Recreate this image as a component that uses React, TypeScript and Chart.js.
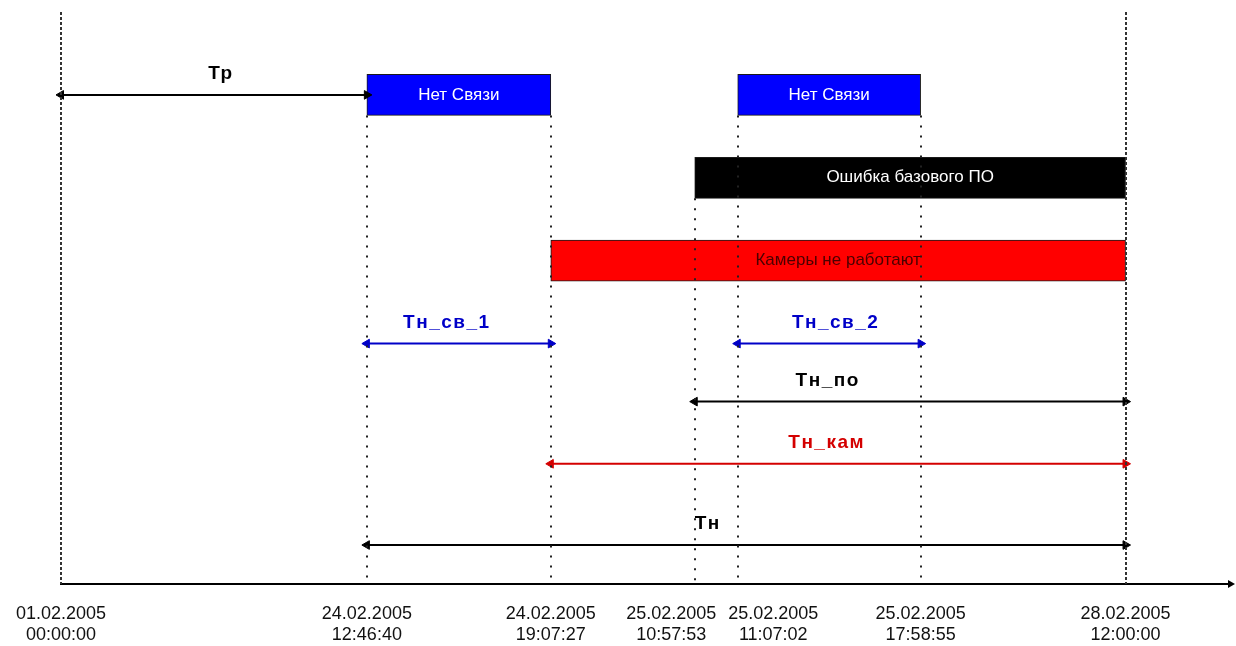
import { useEffect, useRef } from "react";
import { Chart, registerables } from "chart.js";

Chart.register(...registerables);

// ---- data (schematic timeline units, not proportional to time) ----
const eventDates = ["01.02.2005", "24.02.2005", "24.02.2005", "25.02.2005", "25.02.2005", "25.02.2005", "28.02.2005"];
const eventTimes = ["00:00:00", "12:46:40", "19:07:27", "10:57:53", "11:07:02", "17:58:55", "12:00:00"];
const eventPos = [0, 30.6, 49.0, 63.4, 67.7, 86.0, 106.5];

const barNames = ["Нет Связи", "Нет Связи", "Ошибка базового ПО", "Камеры не работают"];
const barStart = [30.6, 67.7, 63.4, 49.0];
const barEnd = [49.0, 86.0, 106.5, 106.5];
const barLane = [0, 0, 1, 2];
const barColors = ["#0000ff", "#0000ff", "#000000", "#ff0000"];
const barTextColors = ["#ffffff", "#ffffff", "#ffffff", "#4a0000"];

const arrowNames = ["Тр", "Тн_св_1", "Тн_св_2", "Тн_по", "Тн_кам", "Тн"];
const arrowStart = [0, 30.6, 67.7, 63.4, 49.0, 30.6];
const arrowEnd = [30.6, 49.0, 86.0, 106.5, 106.5, 106.5];
const arrowLane = [0, 3, 3, 3.7, 4.45, 5.43];
const arrowLabelAt = [16.0, 38.6, 77.5, 76.7, 76.6, 64.7];
const arrowColors = ["#000000", "#0000c8", "#0000c8", "#000000", "#d40000", "#000000"];

const FONT = '"Liberation Sans", Arial, sans-serif';
const BAR_THICK = 41;

export default function App() {
  const ref = useRef<HTMLCanvasElement>(null);

  useEffect(() => {
    const canvas = ref.current!;

    const decorPlugin = {
      id: "decor",
      afterDatasetsDraw(chart: any) {
        const { ctx, chartArea, scales } = chart;
        const x = scales.x;
        const y = scales.y;
        ctx.save();
        // vertical event lines
        eventPos.forEach((p, i) => {
          const px = Math.round(x.getPixelForValue(p));
          let y0 = chartArea.top;
          const outer = i === 0 || i === eventPos.length - 1;
          if (!outer) {
            let lane = Infinity;
            barStart.forEach((s, j) => {
              if (s === p || barEnd[j] === p) lane = Math.min(lane, barLane[j]);
            });
            if (lane !== Infinity) y0 = y.getPixelForValue(lane) + BAR_THICK / 2;
          }
          ctx.beginPath();
          ctx.strokeStyle = outer ? "#333333" : "#222222";
          ctx.lineWidth = 2;
          ctx.setLineDash(outer ? [3, 2] : [2, 8]);
          ctx.moveTo(px, y0);
          ctx.lineTo(px, chartArea.bottom);
          ctx.stroke();
        });
        ctx.setLineDash([]);

        // bar texts
        const meta = chart.getDatasetMeta(0);
        ctx.font = `17px ${FONT}`;
        ctx.textAlign = "center";
        ctx.textBaseline = "middle";
        meta.data.forEach((el: any, i: number) => {
          const c = el.getCenterPoint();
          ctx.fillStyle = barTextColors[i];
          ctx.fillText(barNames[i], c.x, c.y);
        });

        // arrow labels
        ctx.font = `bold 19px ${FONT}`;
        (ctx as any).letterSpacing = "1.5px";
        arrowNames.forEach((n, i) => {
          ctx.fillStyle = arrowColors[i];
          ctx.fillText(n, x.getPixelForValue(arrowLabelAt[i]), y.getPixelForValue(arrowLane[i]) - 21);
        });
        (ctx as any).letterSpacing = "0px";
        ctx.restore();
      },
      afterDraw(chart: any) {
        const { ctx, chartArea, scales } = chart;
        const x = scales.x;
        ctx.save();
        // axis extension + arrowhead
        const ay = chartArea.bottom;
        const ax = chart.width - 1;
        ctx.strokeStyle = "#000";
        ctx.lineWidth = 2;
        ctx.beginPath();
        ctx.moveTo(chartArea.right - 1, ay);
        ctx.lineTo(ax - 4, ay);
        ctx.stroke();
        ctx.fillStyle = "#000";
        ctx.beginPath();
        ctx.moveTo(ax, ay);
        ctx.lineTo(ax - 7, ay - 4);
        ctx.lineTo(ax - 7, ay + 4);
        ctx.closePath();
        ctx.fill();

        // tick labels (two lines), nudged apart where they collide
        ctx.font = `18px ${FONT}`;
        ctx.fillStyle = "#111";
        ctx.textAlign = "center";
        ctx.textBaseline = "middle";
        const centers = eventPos.map((p) => x.getPixelForValue(p));
        const widths = eventDates.map((d, i) =>
          Math.max(ctx.measureText(d).width, ctx.measureText(eventTimes[i]).width)
        );
        for (let i = 1; i < centers.length; i++) {
          const need = (widths[i - 1] + widths[i]) / 2 + 12;
          const d = centers[i] - centers[i - 1];
          if (d < need) {
            const push = (need - d) / 2;
            centers[i - 1] -= push - 6;
            centers[i] += push + 6;
          }
        }
        centers.forEach((cx, i) => {
          ctx.fillText(eventDates[i], cx, ay + 30);
          ctx.fillText(eventTimes[i], cx, ay + 51);
        });
        ctx.restore();
      },
    };

    const datasets: any[] = [
      {
        type: "bar",
        indexAxis: "y",
        data: barNames.map((_, i) => ({ x: [barStart[i], barEnd[i]], y: barLane[i] })),
        backgroundColor: barColors,
        borderColor: "#1a1a1a",
        borderWidth: 1,
        borderSkipped: false,
        barThickness: BAR_THICK,
        grouped: false,
        order: 2,
      },
      ...arrowNames.map((_, i) => ({
        type: "line",
        data: [
          { x: arrowStart[i], y: arrowLane[i] },
          { x: arrowEnd[i], y: arrowLane[i] },
        ],
        borderColor: arrowColors[i],
        backgroundColor: arrowColors[i],
        borderWidth: 2,
        pointStyle: "triangle",
        pointRadius: 5,
        pointRotation: [270, 90],
        pointBorderWidth: 1,
        pointBorderColor: arrowColors[i],
        clip: false,
        order: 1,
      })),
    ];

    const chart = new Chart(canvas, {
      type: "bar",
      data: { datasets },
      options: {
        animation: false,
        responsive: false,
        devicePixelRatio: 1,
        layout: { padding: { left: 61, right: 0, top: 12, bottom: 62 } },
        plugins: { legend: { display: false }, tooltip: { enabled: false } },
        events: [],
        scales: {
          x: {
            type: "linear",
            min: 0,
            max: 116.95,
            offset: false,
            grid: { display: false, drawTicks: false },
            border: { display: true, color: "#000", width: 2 },
            ticks: { display: false },
            afterFit: (s: any) => {
              s.height = 0;
              s.paddingLeft = 0;
              s.paddingRight = 0;
            },
          },
          y: {
            type: "linear",
            min: -1,
            max: 5.9,
            offset: false,
            reverse: true,
            display: false,
          },
        },
      } as any,
      plugins: [decorPlugin],
    });

    return () => chart.destroy();
  }, []);

  return (
    <div style={{ position: "absolute", left: 0, top: 0, width: 1236, height: 646, background: "#fff" }}>
      <canvas ref={ref} width={1236} height={646} style={{ display: "block" }} />
    </div>
  );
}
